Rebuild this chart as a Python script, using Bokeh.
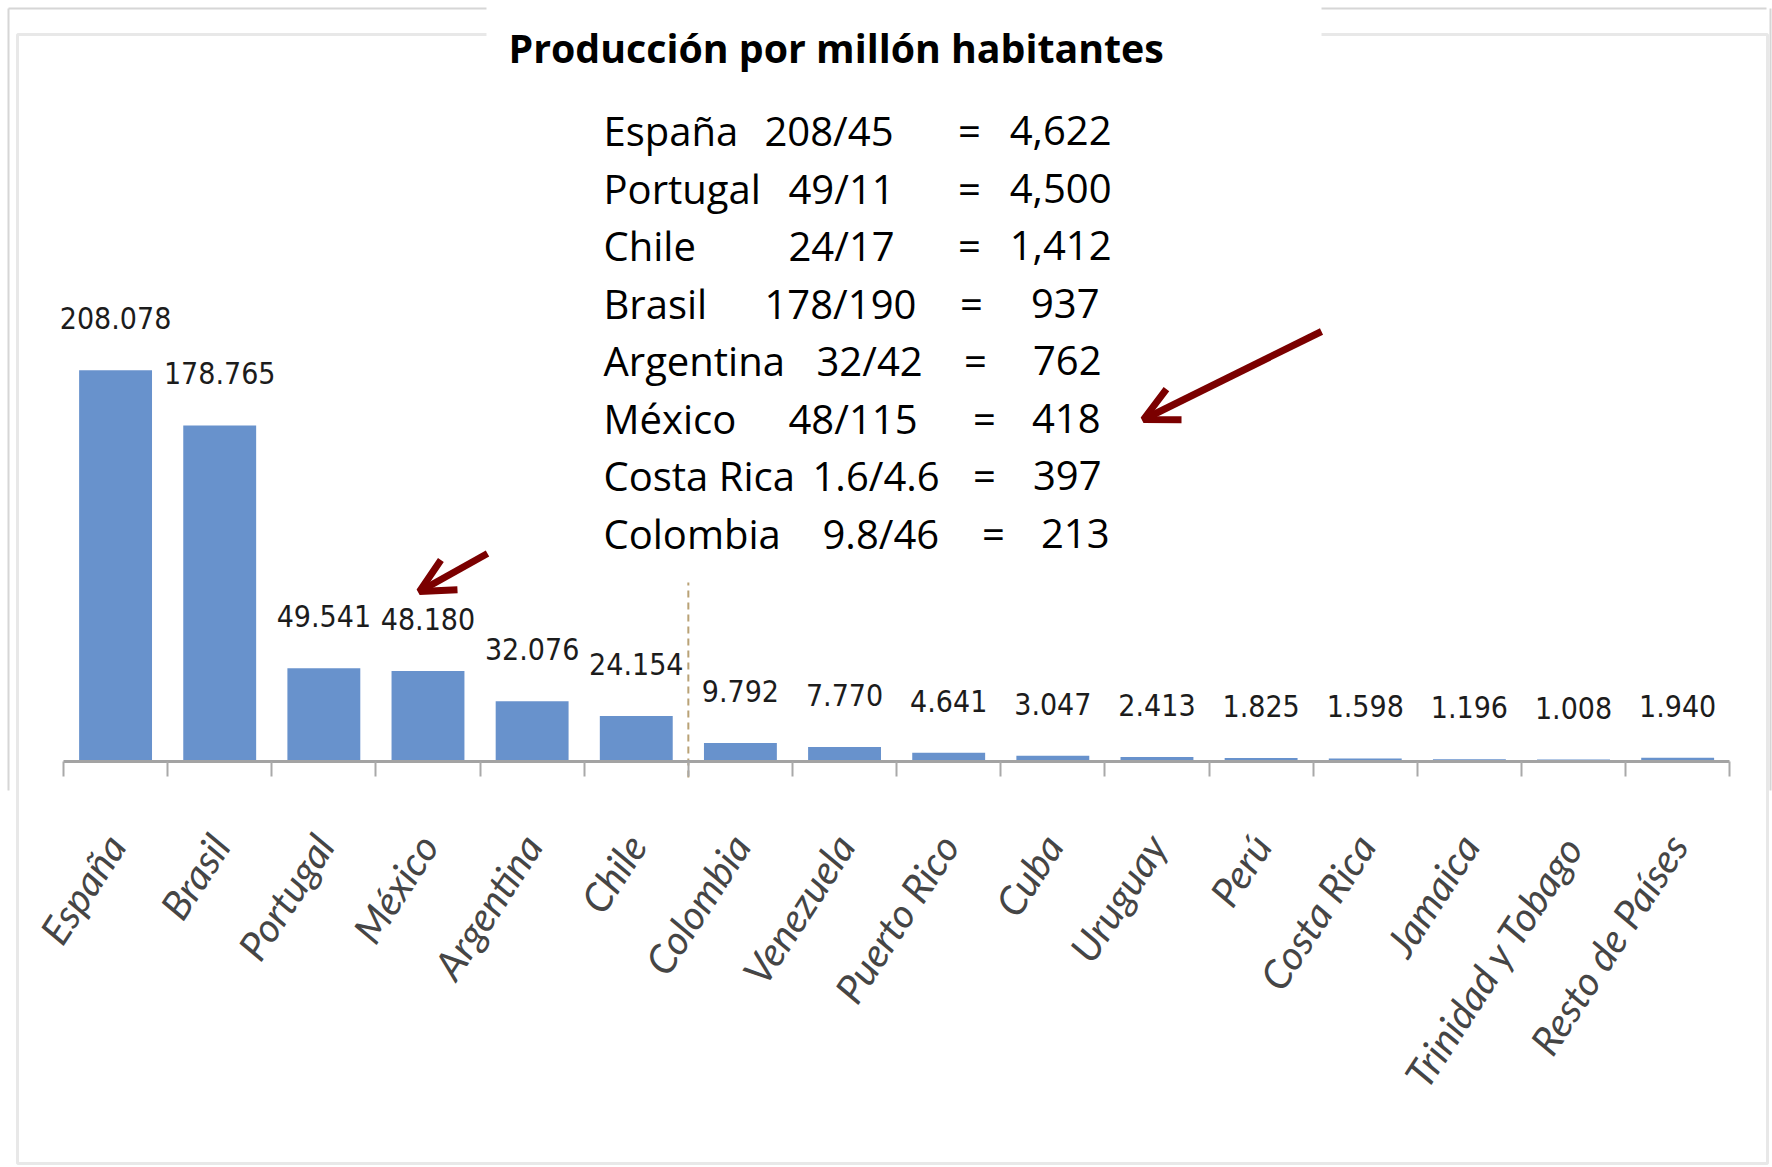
import math
from bokeh.plotting import figure
from bokeh.models import (ColumnDataSource, Range1d, LinearAxis, FixedTicker,
                          BoxAnnotation, Arrow, OpenHead)
from bokeh.core.properties import value
from bokeh.embed import file_html
from bokeh.resources import INLINE

# ---------------- data ----------------
countries = ["España", "Brasil", "Portugal", "México", "Argentina", "Chile",
             "Colombia", "Venezuela", "Puerto Rico", "Cuba", "Uruguay", "Perú",
             "Costa Rica", "Jamaica", "Trinidad y Tobago", "Resto de Países"]
production = [208.078, 178.765, 49.541, 48.180, 32.076, 24.154,
              9.792, 7.770, 4.641, 3.047, 2.413, 1.825,
              1.598, 1.196, 1.008, 1.940]
value_labels = ["208.078", "178.765", "49.541", "48.180", "32.076", "24.154",
                "9.792", "7.770", "4.641", "3.047", "2.413", "1.825",
                "1.598", "1.196", "1.008", "1.940"]

title_text = "Producción por millón habitantes"
table_names = ["España", "Portugal", "Chile", "Brasil", "Argentina",
               "México", "Costa Rica", "Colombia"]
table_ratios = ["208/45", "49/11", "24/17", "178/190", "32/42",
                "48/115", "1.6/4.6", "9.8/46"]
table_results = ["4,622", "4,500", "1,412", "937", "762", "418", "397", "213"]

# ---------------- layout (canvas pixels) ----------------
W, H = 1772, 1167
BASE = 761            # canvas y of value 0
PXU = 1.88            # pixels per unit
CW = 104.14           # pixels per category
LEFT0 = 63            # canvas x of first category boundary
X0 = -0.5 - LEFT0 / CW
X1 = X0 + W / CW


def X(px):
    return X0 + px / CW


def Y(py):
    return (BASE - py) / PXU


idx = list(range(len(countries)))

p = figure(width=W, height=H, x_range=Range1d(X0, X1), y_range=Range1d(Y(H), Y(0)),
           x_axis_type=None, y_axis_type=None, toolbar_location=None,
           output_backend="svg", min_border_left=0, min_border_right=0,
           min_border_top=0, min_border_bottom=0)
p.outline_line_color = None
p.background_fill_color = "white"
p.border_fill_color = "white"

# frame of the pasted picture: faint outer lines (upper part) and main border
p.multi_line(xs=[[X(8), X(1766)], [X(8), X(8)], [X(1770), X(1770)]],
             ys=[[Y(8), Y(8)], [Y(8), Y(790)], [Y(8), Y(790)]],
             line_color="#d6d6d6", line_width=2, level="underlay")
p.add_layout(BoxAnnotation(left=17, right=1767, top=34, bottom=1163,
                           left_units="canvas", right_units="canvas",
                           top_units="canvas", bottom_units="canvas",
                           fill_color=None, line_color="#b2b2b2", line_width=3,
                           level="underlay"))
# white text box covering the top border
p.add_layout(BoxAnnotation(left=486, right=1321, top=-4, bottom=580,
                           left_units="canvas", right_units="canvas",
                           top_units="canvas", bottom_units="canvas",
                           fill_color="white", fill_alpha=1, line_color=None,
                           level="underlay"))

# bars
src = ColumnDataSource(dict(x=idx, top=production, lab=value_labels))
p.vbar(x="x", top="top", width=0.7, source=src, fill_color="#6892cc",
       line_color=None)
p.text(x="x", y="top", text="lab", source=src, text_align="center",
       text_baseline="middle", y_offset=-52,
       text_font=value("'Liberation Sans Narrow', 'Noto Sans Condensed', 'DejaVu Sans Condensed', sans-serif"),
       text_font_size="30px", text_color="#1c1c1c")

# dashed divider between Chile and Colombia
div_x = countries.index("Chile") + 0.5
p.segment(x0=[div_x], y0=[Y(777)], x1=[div_x], y1=[Y(582)],
          line_color="#b9a276", line_width=2, line_dash="7 5")

# axis
ax = LinearAxis(ticker=FixedTicker(ticks=idx,
                                   minor_ticks=[i - 0.5 for i in range(len(countries) + 1)]),
                major_label_overrides={i: c for i, c in enumerate(countries)},
                bounds=(-0.5, len(countries) - 0.5), fixed_location=0)
ax.major_tick_line_color = None
ax.major_tick_in = 0
ax.major_tick_out = 0
ax.minor_tick_in = 0
ax.minor_tick_out = 15
ax.minor_tick_line_color = "#a9a9a9"
ax.minor_tick_line_width = 2
ax.axis_line_color = "#a3a3a3"
ax.axis_line_width = 3
ax.major_label_orientation = math.radians(57)
ax.major_label_standoff = 62
ax.major_label_text_font = "Lato"
ax.major_label_text_font_style = "italic"
ax.major_label_text_font_size = "40px"
ax.major_label_text_color = "#454545"
p.add_layout(ax, "below")

# title and table
p.text(x=[X(508)], y=[Y(47)], text=[title_text], text_font=value("Open Sans"),
       text_font_style="bold", text_font_size="39.3px", text_color="black",
       text_align="left", text_baseline="middle")

row_mid = [130 + i * 57.5 for i in range(len(table_names))]
frac_left = [764, 788, 788, 764, 816, 788, 812, 822]
eq_center = [969, 969, 969, 971, 975, 984, 984, 993]
res_right = [1111, 1111, 1111, 1099, 1101, 1100, 1101, 1109]

tsrc = ColumnDataSource(dict(
    y=[Y(b) for b in row_mid],
    xn=[X(603)] * len(table_names),
    xf=[X(v) for v in frac_left],
    xe=[X(v) for v in eq_center],
    xr=[X(v) for v in res_right],
    name=table_names, ratio=table_ratios,
    eq=["="] * len(table_names), res=table_results))
common = dict(source=tsrc, text_font=value("Open Sans"), text_font_size="40px",
              text_color="black", text_baseline="middle")
p.text(x="xn", y="y", text="name", text_align="left", **common)
p.text(x="xf", y="y", text="ratio", text_align="left", **common)
p.text(x="xe", y="y", text="eq", text_align="center", **common)
p.text(x="xr", y="y", text="res", text_align="right", **common)

# arrows
arrow_color = "#7b0000"
p.add_layout(Arrow(x_start=X(1321), y_start=Y(331), x_end=X(1143), y_end=Y(419),
                   line_color=arrow_color, line_width=7,
                   end=OpenHead(size=34, line_color=arrow_color, line_width=7)))
p.add_layout(Arrow(x_start=X(487), y_start=Y(553), x_end=X(419), y_end=Y(591),
                   line_color=arrow_color, line_width=7,
                   end=OpenHead(size=34, line_color=arrow_color, line_width=7)))

open("out.html", "w").write(file_html(p, INLINE))
